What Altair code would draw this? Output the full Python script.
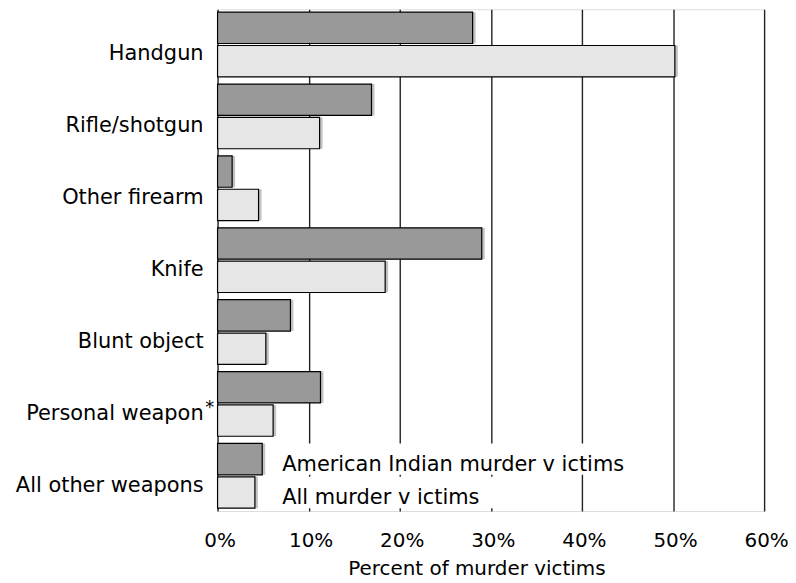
import altair as alt
import pandas as pd

categories = ["Handgun", "Rifle/shotgun", "Other firearm", "Knife",
              "Blunt object", "Personal weapon*", "All other weapons"]
series_names = ["American Indian murder victims", "All murder victims"]
american_indian = [28.0, 16.9, 1.6, 29.0, 8.0, 11.3, 4.9]
all_victims = [50.2, 11.2, 4.5, 18.4, 5.3, 6.1, 4.1]
legend_labels = ["American Indian murder v ictims", "All murder v ictims"]
x_ticks = [0, 10, 20, 30, 40, 50, 60]
x_title = "Percent of murder victims"

rows = []
for c, a, b in zip(categories, american_indian, all_victims):
    rows.append({"category": c, "series": series_names[0], "value": a})
    rows.append({"category": c, "series": series_names[1], "value": b})
df = pd.DataFrame(rows)

legend_df = pd.DataFrame({
    "category": [categories[-1]] * 2,
    "series": series_names,
    "label": legend_labels,
})
star_df = pd.DataFrame({"category": ["Personal weapon*"], "mark": ["*"]})

FONT = "DejaVu Sans"

y_axis = alt.Axis(title=None, domain=False, ticks=False, labelPadding=14.5,
                  labelFontSize=21, labelOffset=10, labelColor="black",
                  labelLimit=400, labelFont=FONT,
                  labelExpr="replace(datum.label, '*', '')")
x_axis = alt.Axis(values=x_ticks, labelExpr="datum.value + '%'", domain=False,
                  ticks=False, labelPadding=20, labelFontSize=20, labelOffset=2,
                  labelFlush=False, labelOverlap=False,
                  labelColor="black", labelFont=FONT,
                  title=x_title, titleFontSize=20, titleFontWeight="normal",
                  titleFont=FONT, titleColor="black", titlePadding=8, titleX=260,
                  grid=True, gridColor="#222222", gridWidth=1.4)

y_enc = alt.Y("category:N", sort=categories,
              scale=alt.Scale(paddingInner=0.1, paddingOuter=0.04), axis=y_axis)
yoff_enc = alt.YOffset("series:N", sort=series_names,
                       scale=alt.Scale(domain=series_names, paddingInner=0.06))
x_enc = alt.X("value:Q", scale=alt.Scale(domain=[0, 60], nice=False), axis=x_axis)
color_enc = alt.Color("series:N", sort=series_names,
                      scale=alt.Scale(domain=series_names, range=["#999999", "#e6e6e6"]),
                      legend=None)

shadow = alt.Chart(df).mark_bar(color="#c2c2c2", xOffset=3, x2Offset=3,
                                yOffset=3, y2Offset=3).encode(
    x=x_enc, y=y_enc, yOffset=yoff_enc)

bars = alt.Chart(df).mark_bar(stroke="black", strokeWidth=1.2).encode(
    x=x_enc, y=y_enc, yOffset=yoff_enc, color=color_enc)

box1 = alt.Chart(legend_df).transform_filter(
    alt.datum.series == series_names[0]).mark_rect(color="white", y2Offset=10).encode(
    x=alt.datum(5.5), x2=alt.datum(47.5), y=y_enc, yOffset=yoff_enc)
box2 = alt.Chart(legend_df).transform_filter(
    alt.datum.series == series_names[1]).mark_rect(color="white", y2Offset=6).encode(
    x=alt.datum(5.5), x2=alt.datum(33), y=y_enc, yOffset=yoff_enc)

legend_text = alt.Chart(legend_df).mark_text(
    align="left", baseline="middle", dy=6, fontSize=21, font=FONT, color="black").encode(
    x=alt.datum(7.1), y=y_enc, yOffset=yoff_enc, text="label:N")

star = alt.Chart(star_df).mark_text(
    align="center", baseline="middle", dy=4, fontSize=18, font=FONT, color="black").encode(
    x=alt.value(-8), y=y_enc, text="mark:N")

chart = alt.layer(shadow, bars, box1, box2, legend_text, star).properties(
    width=549, height=504,
    autosize=alt.AutoSizeParams(type="none"),
    padding={"left": 210.5, "top": 0, "right": 24, "bottom": 72},
).configure_view(stroke="black", strokeWidth=1.5).configure(font=FONT)

chart.save("out.html", embed_options={"renderer": "svg", "actions": False})
